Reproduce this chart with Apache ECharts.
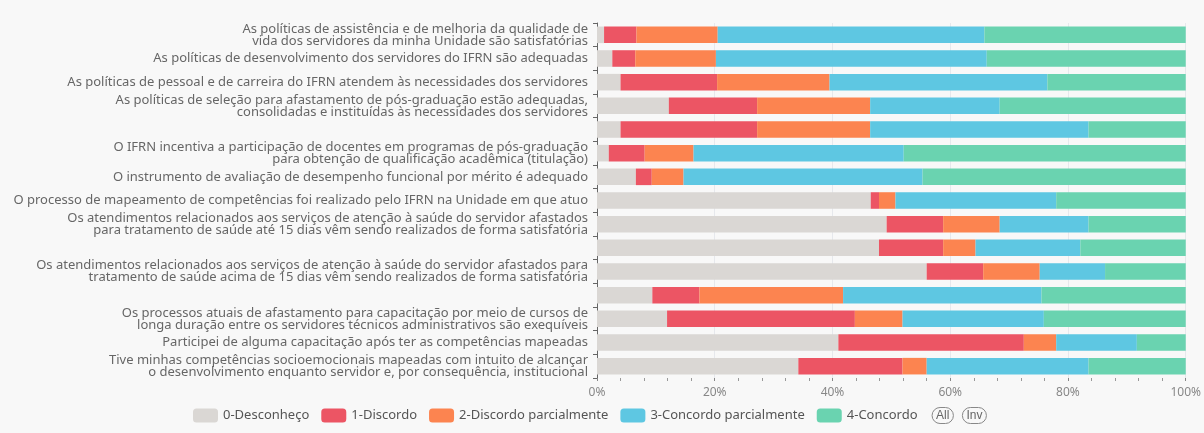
<!DOCTYPE html>
<html lang="pt">
<head>
<meta charset="UTF-8">
<title>Avaliação das políticas de pessoal</title>
<script src="https://cdn.jsdelivr.net/npm/echarts@6/dist/echarts.min.js"></script>
<style>
  html, body { margin: 0; padding: 0; background: #f8f8f8; }
  #chart { width: 1204px; height: 433px; }
</style>
</head>
<body>
<div id="chart"></div>
<script>
// perguntas (linhas em branco no original ficam vazias)
const categories = [
  'As políticas de assistência e de melhoria da qualidade de\nvida dos servidores da minha Unidade são satisfatórias',
  'As políticas de desenvolvimento dos servidores do IFRN são adequadas',
  'As políticas de pessoal e de carreira do IFRN atendem às necessidades dos servidores',
  'As políticas de seleção para afastamento de pós-graduação estão adequadas,\nconsolidadas e instituídas às necessidades dos servidores',
  '',
  'O IFRN incentiva a participação de docentes em programas de pós-graduação\npara obtenção de qualificação acadêmica (titulação)',
  'O instrumento de avaliação de desempenho funcional por mérito é adequado',
  'O processo de mapeamento de competências foi realizado pelo IFRN na Unidade em que atuo',
  'Os atendimentos relacionados aos serviços de atenção à saúde do servidor afastados\npara tratamento de saúde até 15 dias vêm sendo realizados de forma satisfatória',
  '',
  'Os atendimentos relacionados aos serviços de atenção à saúde do servidor afastados para\ntratamento de saúde acima de 15 dias vêm sendo realizados de forma satisfatória',
  '',
  'Os processos atuais de afastamento para capacitação por meio de cursos de\nlonga duração entre os servidores técnicos administrativos são exequíveis',
  'Participei de alguma capacitação após ter as competências mapeadas',
  'Tive minhas competências socioemocionais mapeadas com intuito de alcançar\no desenvolvimento enquanto servidor e, por consequência, institucional'
];

const seriesNames = ['0-Desconheço', '1-Discordo', '2-Discordo parcialmente', '3-Concordo parcialmente', '4-Concordo'];
const colors = ['#dad7d4', '#ec5564', '#fc8450', '#5ec7e2', '#6ad3b0'];

// percentuais por resposta, na ordem das perguntas
const desconheco = [1.2, 2.6, 4.0, 12.2, 4.0, 2.0, 6.6, 46.5, 49.2, 47.9, 56.0, 9.4, 11.9, 41.0, 34.2];
const discordo = [5.5, 3.9, 16.4, 15.0, 23.2, 6.1, 2.7, 1.4, 9.6, 10.9, 9.6, 8.0, 31.9, 31.5, 17.7];
const discordoParcial = [13.8, 13.7, 19.1, 19.2, 19.2, 8.3, 5.4, 2.8, 9.6, 5.5, 9.6, 24.4, 8.1, 5.5, 4.1];
const concordoParcial = [45.3, 46.0, 37.0, 22.0, 37.1, 35.7, 40.6, 27.3, 15.1, 17.8, 11.1, 33.7, 24.0, 13.7, 27.5];
const concordo = [34.2, 33.8, 23.5, 31.6, 16.5, 47.9, 44.7, 22.0, 16.5, 17.9, 13.7, 24.5, 24.1, 8.3, 16.5];

const xTicks = [0, 20, 40, 60, 80, 100];

const values = [desconheco, discordo, discordoParcial, concordoParcial, concordo];

const chart = echarts.init(document.getElementById('chart'));
chart.setOption({
  backgroundColor: '#f8f8f8',
  textStyle: { fontFamily: 'Noto Sans' },
  grid: { left: 597, right: 17, top: 23, bottom: 55 },
  legend: {
    bottom: 4,
    left: 188,
    itemWidth: 25,
    itemHeight: 14,
    itemGap: 12,
    textStyle: { color: '#555', fontSize: 13 },
    selector: [{ type: 'all', title: 'All' }, { type: 'inverse', title: 'Inv' }],
    selectorButtonGap: 14,
    selectorItemGap: 8,
    selectorLabel: { color: '#666', fontSize: 12, borderColor: '#888', padding: [2, 4] },
    data: seriesNames
  },
  xAxis: {
    type: 'value',
    min: 0,
    max: 100,
    interval: 20,
    axisLine: { show: false },
    axisTick: { show: true, length: 3, lineStyle: { color: '#888' } },
    minorTick: { show: true, splitNumber: 5, length: 3, lineStyle: { color: '#999' } },
    splitLine: { show: true, lineStyle: { color: '#e6e8ec' } },
    axisLabel: {
      color: '#888',
      fontSize: 12,
      margin: 9,
      formatter: v => xTicks.includes(v) ? v + '%' : ''
    }
  },
  yAxis: {
    type: 'category',
    inverse: true,
    data: categories,
    axisLine: { show: true, lineStyle: { color: '#666' } },
    axisTick: { show: true, length: 4, lineStyle: { color: '#666' } },
    axisLabel: {
      color: '#666',
      fontSize: 13,
      lineHeight: 12,
      margin: 9,
      interval: 0
    }
  },
  series: seriesNames.map((name, i) => ({
    name: name,
    type: 'bar',
    stack: 'total',
    barCategoryGap: '30%',
    itemStyle: { color: colors[i] },
    data: values[i]
  }))
});
</script>
</body>
</html>
